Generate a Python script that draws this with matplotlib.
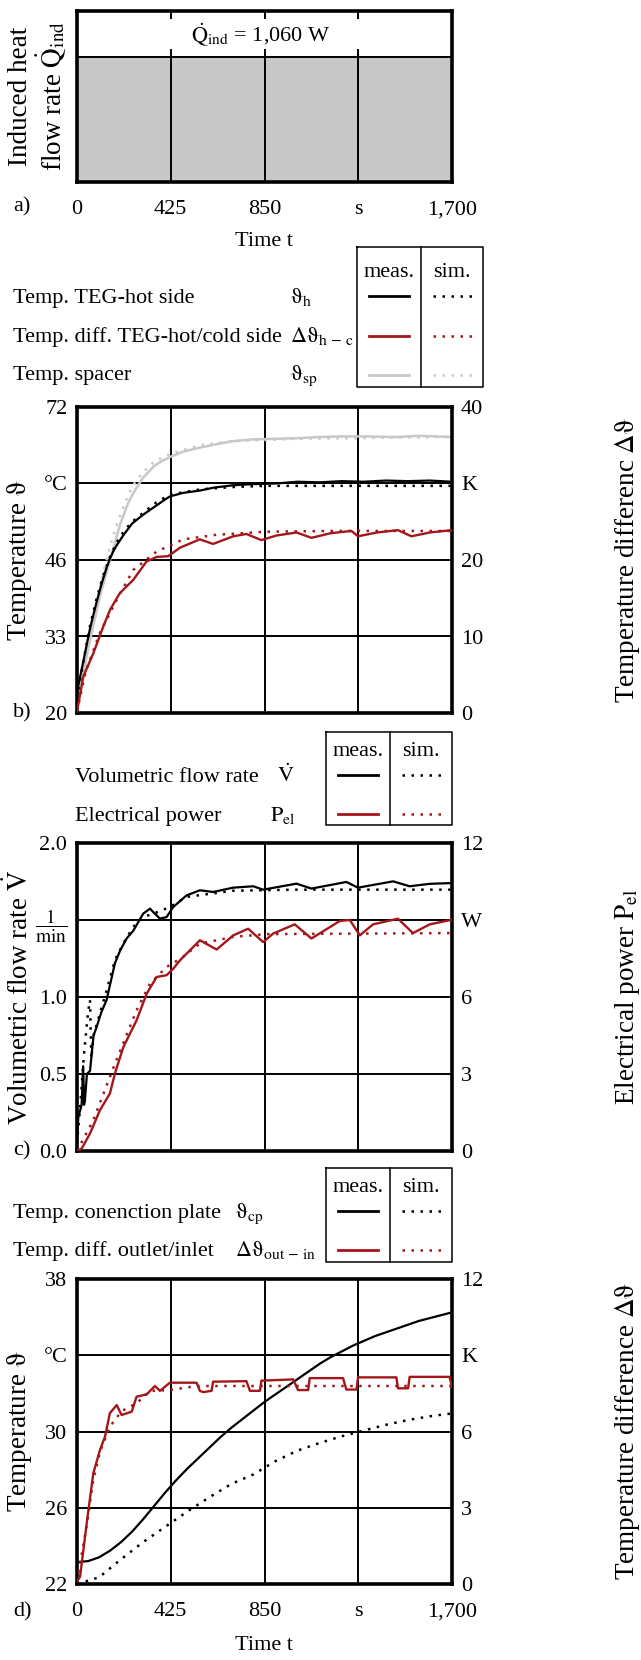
import matplotlib
matplotlib.use('Agg')
import matplotlib.pyplot as plt

plt.rcParams['font.family'] = ['Liberation Serif', 'DejaVu Serif']
plt.rcParams['mathtext.fontset'] = 'stix'
plt.rcParams['font.size'] = 16

RED = '#a3161a'
GRAY = '#c8c8c8'
DOT = (0, (1, 2.6))
YL = 19.5  # rotated axis labels

############
# data
############
t_ticks = [0, 425, 850, 1275, 1700]
t_labels = ['0', '425', '850', 's', '1,700']

# a) induced heat flow rate
q_ind = 1060

# b) TEG temperatures
b_sp_meas_t = [0, 15, 30, 45, 60, 75, 90, 105, 120, 135, 150, 165, 180, 195, 210, 230, 250, 275, 300, 325, 350, 385, 421, 480, 557, 650, 708, 800, 900, 1000, 1100, 1200, 1300, 1450, 1550, 1700]
b_sp_meas = [22, 24.5, 27, 29.8, 32.5, 35, 37.5, 40, 42, 44, 46, 48, 50, 52, 53.5, 55.5, 57, 58.6, 60, 61, 62, 62.8, 63.5, 64.4, 65.1, 65.8, 66.2, 66.5, 66.6, 66.7, 66.9, 67.0, 67.0, 66.9, 67.1, 66.9]
b_sp_sim_t = [0, 30, 60, 90, 120, 150, 180, 215, 250, 300, 350, 421, 557, 708, 1000, 1700]
b_sp_sim = [22, 27.8, 33.5, 39, 44, 48.3, 52, 55.5, 58.5, 61, 62.7, 64, 65.5, 66.2, 66.6, 66.9]
b_h_meas_t = [0, 15, 30, 45, 60, 75, 90, 105, 120, 135, 150, 165, 180, 210, 250, 300, 350, 400, 421, 480, 557, 620, 708, 800, 900, 1000, 1100, 1200, 1300, 1400, 1500, 1600, 1700]
b_h_meas = [23.5, 26.3, 29, 31.8, 34.5, 36.8, 39, 41.1, 43, 44.8, 46.3, 47.5, 48.5, 50.2, 52.2, 53.7, 55, 56.3, 56.8, 57.4, 57.8, 58.3, 58.7, 58.9, 59.0, 59.3, 59.2, 59.4, 59.3, 59.5, 59.4, 59.5, 59.3]
b_h_sim_t = [0, 30, 60, 90, 120, 150, 180, 215, 250, 300, 360, 421, 557, 708, 850, 1700]
b_h_sim = [22.5, 29, 35, 39.6, 43.5, 46.6, 49, 51, 52.5, 54, 55.8, 57.1, 58.0, 58.4, 58.6, 58.6]
b_dhc_meas_t = [0, 29, 74, 119, 150, 195, 255, 315, 361, 414, 466, 557, 617, 708, 768, 836, 904, 995, 1063, 1150, 1244, 1274, 1360, 1455, 1516, 1600, 1700]
b_dhc_meas = [0.2, 4.8, 7.8, 11.3, 13.5, 15.7, 17.4, 19.8, 20.4, 20.5, 21.6, 22.7, 22.1, 23.1, 23.4, 22.6, 23.2, 23.6, 22.9, 23.5, 23.8, 23.1, 23.6, 23.9, 23.1, 23.6, 23.9]
b_dhc_sim_t = [0, 40, 104, 180, 255, 361, 482, 633, 860, 1160, 1700]
b_dhc_sim = [0.2, 5.5, 10.5, 14.8, 18.7, 21.1, 22.7, 23.3, 23.7, 23.8, 23.8]

# c) volumetric flow rate and electrical power
c_v_meas_t = [0, 6, 21, 28, 32, 36, 45, 59, 75, 89, 110, 134, 172, 195, 225, 255, 300, 331, 350, 376, 406, 436, 497, 557, 617, 708, 799, 844, 995, 1063, 1221, 1274, 1433, 1508, 1600, 1700]
c_v_meas = [0.05, 0.22, 0.3, 0.55, 0.3, 0.33, 0.5, 0.52, 0.75, 0.805, 0.9, 0.98, 1.22, 1.30, 1.38, 1.43, 1.541, 1.574, 1.545, 1.509, 1.519, 1.584, 1.66, 1.693, 1.682, 1.71, 1.719, 1.697, 1.736, 1.704, 1.747, 1.71, 1.751, 1.719, 1.735, 1.74]
c_v_sim_t = [0, 15, 30, 50, 59, 65, 75, 95, 134, 172, 210, 255, 300, 345, 420, 497, 708, 1000, 1700]
c_v_sim = [0.05, 0.3, 0.6, 0.9, 0.98, 0.6, 0.75, 0.85, 1.04, 1.24, 1.347, 1.455, 1.52, 1.54, 1.584, 1.65, 1.69, 1.697, 1.697]
c_p_meas_t = [0, 21, 59, 104, 149, 172, 210, 270, 316, 361, 406, 436, 467, 557, 633, 708, 776, 844, 889, 987, 1063, 1191, 1237, 1282, 1342, 1455, 1523, 1599, 1700]
c_p_meas = [0.0, 0.09, 0.68, 1.59, 2.24, 3.02, 4.05, 5.09, 6.13, 6.78, 6.85, 7.1, 7.43, 8.21, 7.85, 8.4, 8.66, 8.14, 8.47, 8.83, 8.28, 8.96, 9.0, 8.4, 8.83, 9.05, 8.49, 8.83, 9.01]
c_p_sim_t = [0, 74, 172, 270, 331, 406, 470, 557, 708, 859, 1700]
c_p_sim = [0, 1.2, 3.4, 5.48, 6.52, 7.17, 7.5, 8.08, 8.34, 8.45, 8.49]

# d) connection plate and outlet/inlet
d_cp_meas_t = [0, 50, 100, 150, 200, 250, 300, 350, 400, 450, 500, 550, 600, 650, 700, 750, 800, 850, 900, 950, 1000, 1050, 1100, 1150, 1200, 1250, 1300, 1350, 1400, 1450, 1500, 1550, 1600, 1650, 1700]
d_cp_meas = [23.15, 23.2, 23.4, 23.75, 24.2, 24.75, 25.4, 26.1, 26.8, 27.45, 28.05, 28.6, 29.15, 29.7, 30.2, 30.65, 31.1, 31.55, 31.95, 32.35, 32.75, 33.15, 33.55, 33.9, 34.2, 34.5, 34.75, 35.0, 35.2, 35.4, 35.6, 35.8, 35.95, 36.1, 36.25]
d_cp_sim_t = [0, 100, 200, 300, 400, 500, 600, 700, 800, 900, 1000, 1100, 1200, 1300, 1400, 1500, 1600, 1700]
d_cp_sim = [22.0, 22.35, 23.3, 24.2, 25.0, 25.8, 26.55, 27.25, 27.75, 28.45, 29.0, 29.4, 29.75, 30.05, 30.35, 30.6, 30.8, 30.95]
d_dio_meas_t = [0, 14, 44, 74, 104, 127, 149, 180, 202, 248, 270, 316, 353, 376, 421, 542, 557, 572, 610, 617, 768, 784, 829, 836, 980, 1002, 1048, 1055, 1206, 1221, 1267, 1274, 1448, 1455, 1501, 1508, 1689, 1700]
d_dio_meas = [0.1, 0.29, 2.39, 4.36, 5.27, 5.8, 6.72, 7.04, 6.65, 6.78, 7.37, 7.46, 7.79, 7.6, 7.92, 7.92, 7.6, 7.55, 7.6, 7.96, 7.98, 7.6, 7.6, 8.0, 8.05, 7.63, 7.63, 8.1, 8.1, 7.65, 7.65, 8.13, 8.13, 7.7, 7.7, 8.15, 8.15, 7.76]
d_dio_sim_t = [0, 44, 74, 104, 149, 202, 270, 331, 421, 542, 1700]
d_dio_sim = [0.1, 2.3, 4.1, 5.2, 6.19, 6.8, 7.11, 7.6, 7.63, 7.79, 7.79]

############
# layout helpers
############
W, H = 641, 1660
fig = plt.figure(figsize=(W / 100, H / 100), dpi=100)


def add_panel(top, bottom):
    return fig.add_axes([77 / W, 1 - bottom / H, 375 / W, (bottom - top) / H])


def style(ax, ylim, yticks, ylabels, xlabels=False):
    ax.set_xlim(0, 1700)
    ax.set_ylim(ylim)
    ax.set_xticks(t_ticks, t_labels)
    ax.set_yticks(yticks, ylabels)
    ax.grid(True, color='black', lw=1.4)
    ax.set_axisbelow(True)
    ax.tick_params(length=0, labelsize=16)
    ax.tick_params(axis='y', pad=7)
    ax.tick_params(axis='x', pad=13, labelbottom=xlabels)
    for s in ax.spines.values():
        s.set_linewidth(2.6)


def twin(ax, ylim, yticks, ylabels):
    ax2 = ax.twinx()
    ax2.set_ylim(ylim)
    ax2.set_yticks(yticks, ylabels)
    ax2.tick_params(length=0, labelsize=16, pad=6.5)
    for s in ax2.spines.values():
        s.set_visible(False)
    return ax2


############
# a)
############
ax_a = add_panel(11, 182)
ax_a.set_xlim(0, 1700)
ax_a.set_ylim(0, 1450)
ax_a.fill_between([0, 1700], 0, q_ind, color=GRAY, lw=0)
ax_a.axhline(q_ind, color='black', lw=1.4)
for t in t_ticks[1:-1]:
    ax_a.axvline(t, ymin=0, ymax=0.772, color='black', lw=1.4)
ax_a.set_xticks(t_ticks, t_labels)
ax_a.set_yticks([])
ax_a.tick_params(axis='x', length=0, pad=13, labelsize=16)
ax_a.tick_params(axis='x', top=True, direction='in', length=6, width=1.4, labeltop=False)
ax_a.tick_params(axis='x', bottom=False)
for s in ax_a.spines.values():
    s.set_linewidth(2.6)
ax_a.text(0.49, 0.86, r'$\dot{\mathrm{Q}}_{\mathrm{ind}}$ = 1,060 W', transform=ax_a.transAxes,
          ha='center', va='center', fontsize=16)

############
# b)
############
ax_b = add_panel(407, 713)
style(ax_b, (20, 72), [20, 33, 46, 59, 72], ['20', '33', '46', '°C', '72'])
ax_b2 = twin(ax_b, (0, 40), [0, 10, 20, 30, 40], ['0', '10', '20', 'K', '40'])
ax_b.plot(b_sp_sim_t, b_sp_sim, color=GRAY, lw=1.8, ls=DOT)
ax_b.plot(b_sp_meas_t, b_sp_meas, color=GRAY, lw=1.8)
ax_b.plot(b_h_sim_t, b_h_sim, color='black', lw=1.8, ls=DOT)
ax_b.plot(b_h_meas_t, b_h_meas, color='black', lw=1.6)
ax_b2.plot(b_dhc_sim_t, b_dhc_sim, color=RED, lw=1.8, ls=DOT)
ax_b2.plot(b_dhc_meas_t, b_dhc_meas, color=RED, lw=1.7)

############
# c)
############
ax_c = add_panel(843, 1151)
style(ax_c, (0, 2), [0, 0.5, 1.0, 1.5, 2.0], ['0.0', '0.5', '1.0', r'$\dfrac{1}{\mathrm{min}}$', '2.0'])
ax_c.get_yticklabels()[3].set_fontsize(14)
ax_c2 = twin(ax_c, (0, 12), [0, 3, 6, 9, 12], ['0', '3', '6', 'W', '12'])
ax_c.plot(c_v_sim_t, c_v_sim, color='black', lw=1.8, ls=DOT)
ax_c.plot(c_v_meas_t, c_v_meas, color='black', lw=1.6)
ax_c2.plot(c_p_sim_t, c_p_sim, color=RED, lw=1.8, ls=DOT)
ax_c2.plot(c_p_meas_t, c_p_meas, color=RED, lw=1.7)

############
# d)
############
ax_d = add_panel(1279, 1584)
style(ax_d, (22, 38), [22, 26, 30, 34, 38], ['22', '26', '30', '°C', '38'], xlabels=True)
ax_d2 = twin(ax_d, (0, 12), [0, 3, 6, 9, 12], ['0', '3', '6', 'K', '12'])
ax_d.plot(d_cp_sim_t, d_cp_sim, color='black', lw=1.8, ls=DOT)
ax_d.plot(d_cp_meas_t, d_cp_meas, color='black', lw=1.6)
ax_d2.plot(d_dio_sim_t, d_dio_sim, color=RED, lw=1.8, ls=DOT)
ax_d2.plot(d_dio_meas_t, d_dio_meas, color=RED, lw=1.7)

############
# free text and legend tables (pixel coords)
############
ov = fig.add_axes([0, 0, 1, 1])
ov.set_xlim(0, W)
ov.set_ylim(H, 0)
ov.axis('off')

TH = r'$\mathrm{\vartheta}$'

ov.text(38, 96, 'Induced heat\nflow rate $\\dot{\\mathrm{Q}}_{\\mathrm{ind}}$', rotation=90,
        ha='center', va='center', linespacing=1.05, fontsize=YL)
ov.text(20, 560, 'Temperature ' + TH, rotation=90, ha='center', va='center', fontsize=YL)
ov.text(19, 997, r'Volumetric flow rate $\dot{\mathrm{V}}$', rotation=90, ha='center', va='center', fontsize=YL)
ov.text(20, 1431, 'Temperature ' + TH, rotation=90, ha='center', va='center', fontsize=YL)
ov.text(627, 560, r'Temperature differenc $\Delta\mathrm{\vartheta}$', rotation=90, ha='center', va='center', fontsize=YL)
ov.text(627, 997, r'Electrical power $\mathrm{P_{el}}$', rotation=90, ha='center', va='center', fontsize=YL)
ov.text(627, 1431, r'Temperature difference $\Delta\mathrm{\vartheta}$', rotation=90, ha='center', va='center', fontsize=YL)

ov.text(264, 241, 'Time t', ha='center', va='center')
ov.text(264, 1645, 'Time t', ha='center', va='center')
ov.text(13, 207, 'a)', ha='left', va='center')
ov.text(13, 713, 'b)', ha='left', va='center')
ov.text(13, 1151, 'c)', ha='left', va='center')
ov.text(13, 1612, 'd)', ha='left', va='center')


def legend_table(x0, xm, x1, top, bottom, head_y, rows):
    lw = 1.1
    ov.plot([x0, x1, x1, x0, x0], [top, top, bottom, bottom, top], color='black', lw=lw)
    ov.plot([xm, xm], [top, bottom], color='black', lw=lw)
    ov.text((x0 + xm) / 2, head_y, 'meas.', ha='center', va='baseline')
    ov.text((xm + x1) / 2, head_y, 'sim.', ha='center', va='baseline')
    for y, color in rows:
        ov.plot([x0 + 12, xm - 12], [y, y], color=color, lw=2.0)
        ov.plot([xm + 12, x1 - 10], [y, y], color=color, lw=1.8, ls=DOT)


# b) legend
for label, sym, y in [('Temp. TEG-hot side', r'$\mathrm{\vartheta_{h}}$', 303),
                      ('Temp. diff. TEG-hot/cold side', r'$\Delta\mathrm{\vartheta_{h\,-\,c}}$', 342),
                      ('Temp. spacer', r'$\mathrm{\vartheta_{sp}}$', 380)]:
    ov.text(13, y, label, ha='left', va='baseline')
    ov.text(290, y, sym, ha='left', va='baseline')
legend_table(357, 421, 483, 247, 387, 277, [(296, 'black'), (336, RED), (375, GRAY)])

# c) legend
for label, sym, sx, y in [('Volumetric flow rate', r'$\dot{\mathrm{V}}$', 277, 782),
                          ('Electrical power', r'$\mathrm{P_{el}}$', 270, 821)]:
    ov.text(75, y, label, ha='left', va='baseline')
    ov.text(sx, y, sym, ha='left', va='baseline')
legend_table(326, 390, 452, 732, 825, 756, [(775, 'black'), (814, RED)])

# d) legend
for label, sym, y in [('Temp. conenction plate', r'$\mathrm{\vartheta_{cp}}$', 1218),
                      ('Temp. diff. outlet/inlet', r'$\Delta\mathrm{\vartheta_{out\,-\,in}}$', 1256)]:
    ov.text(13, y, label, ha='left', va='baseline')
    ov.text(235, y, sym, ha='left', va='baseline')
legend_table(326, 390, 452, 1168, 1262, 1192, [(1211, 'black'), (1250, RED)])

fig.savefig('out.png', dpi=100)
